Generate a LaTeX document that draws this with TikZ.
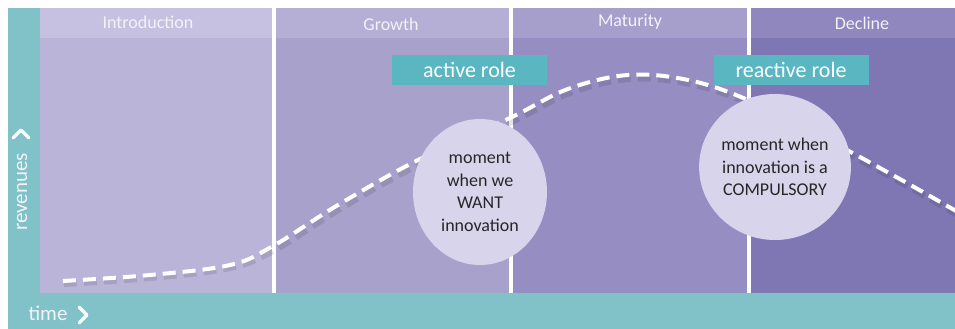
\documentclass[tikz,border=0pt]{standalone}
\usepackage{fontspec}
\setmainfont{Carlito}
\usetikzlibrary{shapes.geometric}
\begin{document}
\begin{tikzpicture}[x=1pt,y=-1pt,
  band/.style={fill=axisteal,draw=none},
  phaselabel/.style={text=headtext,font=\fontsize{18}{21}\selectfont,anchor=center},
  divider/.style={draw=white,line width=4.5pt},
  rolebox/.style={fill=roleteal,text=white,minimum width=155pt,minimum height=29pt,inner sep=0pt,font=\fontsize{22}{26}\selectfont},
  bubble/.style={ellipse,fill=bubblefill,minimum width=134pt,minimum height=146pt,inner sep=0pt,align=center,text=black!85,font=\fontsize{18}{22.5}\selectfont},
  curve/.style={draw=white,line width=4pt,dash pattern=on 13pt off 7pt},
  chevron/.style={draw=white!95!axisteal,line width=3.5pt,line cap=round,line join=round}
]
\definecolor{axisteal}{HTML}{80C2C8}
\definecolor{roleteal}{HTML}{5AB6C0}
\definecolor{headtext}{HTML}{F3F2F9}
\definecolor{bubblefill}{HTML}{D8D4EB}
\definecolor{introbody}{HTML}{BAB4D8}
\definecolor{introhead}{HTML}{C6C1E1}
\definecolor{growbody}{HTML}{A8A1CB}
\definecolor{growhead}{HTML}{B5AED5}
\definecolor{maturbody}{HTML}{968EC2}
\definecolor{maturhead}{HTML}{A69FCC}
\definecolor{declbody}{HTML}{7F77B4}
\definecolor{declhead}{HTML}{8F87BE}
\useasboundingbox (0,0) rectangle (955,329);
\fill[white] (0,0) rectangle (955,329);

% phase columns: body and header strip
\fill[introbody] (40,8) rectangle (274,293);
\fill[introhead] (40,8) rectangle (274,38);
\fill[growbody] (274,8) rectangle (511,293);
\fill[growhead] (274,8) rectangle (511,38);
\fill[maturbody] (511,8) rectangle (749,293);
\fill[maturhead] (511,8) rectangle (749,38);
\fill[declbody] (749,8) rectangle (955,293);
\fill[declhead] (749,8) rectangle (955,38);

\node[phaselabel] (intro) at (148,22) {Introduction};
\node[phaselabel] (growth) at (391,24) {Growth};
\node[phaselabel] (maturity) at (630,22) {Maturity};
\node[phaselabel] (decline) at (862,23) {Decline};

% axes bands
\fill[band] (8,8) rectangle (40,329);
\fill[band] (8,293) rectangle (955,329);

% phase dividers
\draw[divider] (274,8) -- (274,293);
\draw[divider] (511,8) -- (511,293);
\draw[divider] (749,8) -- (749,293);

% revenue curve with soft shadow
\draw[black,opacity=0.10,line width=6pt,dash pattern=on 13pt off 7pt]
  plot[smooth,tension=0.6] coordinates {(64,284) (150,278) (230,268) (275,250) (340,209) (420,164) (512,122) (570,93) (630,79) (690,84) (750,104) (830,144) (900,182) (958,215)};
\draw[curve]
  plot[smooth,tension=0.6] coordinates {(63,281) (150,275) (230,265) (273,246) (338,205) (418,160) (510,118) (568,89) (628,75) (688,80) (748,100) (828,140) (898,178) (956,211)};

% moments
\node[bubble] (want) at (480,192) {moment\\when we\\WANT\\innovation};
\node[bubble] (must) at (775,167) {moment when\\innovation is a\\COMPULSORY};

% roles
\node[rolebox] (active) at (469.5,70) {active role};
\node[rolebox] (reactive) at (791,70) {reactive role};

% axis labels
\node[text=headtext,rotate=90,font=\fontsize{21}{24}\selectfont] (rev) at (22,192) {revenues};
\draw[chevron] (13,138) -- (21,130) -- (29,138);
\node[text=headtext,anchor=west,font=\fontsize{21}{24}\selectfont] (time) at (25,313) {time};
\draw[chevron] (79,307) -- (87,315) -- (79,323);
\end{tikzpicture}
\end{document}
